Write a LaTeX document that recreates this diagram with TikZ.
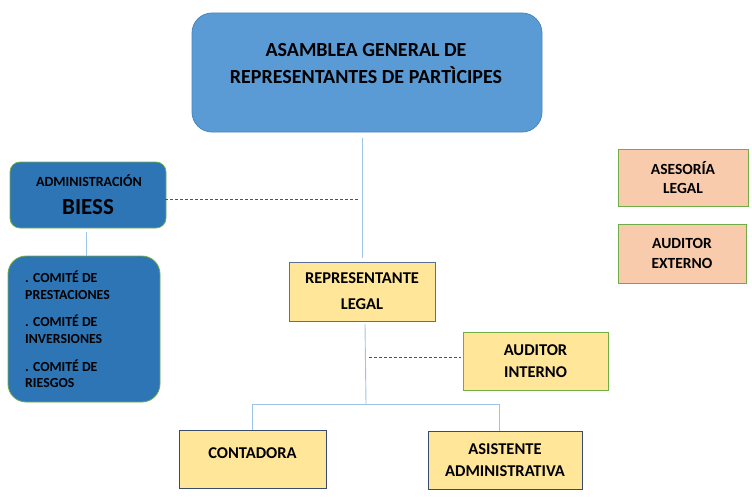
\documentclass[tikz,border=0pt]{standalone}
\usepackage{fontspec}
\setmainfont{Carlito}
\begin{document}
\begin{tikzpicture}[x=1pt,y=-1pt,
  box/.style={draw, line width=0.8pt, inner sep=0pt, align=center, font=\bfseries, text=black},
  bluebig/.style={box, fill=asamblea, draw=asambleadraw, rounded corners=20pt},
  darkblue/.style={box, fill=biess, draw=greenedge, rounded corners=10pt},
  yellowbox/.style={box, fill=yellowfill},
  peach/.style={box, fill=peachfill, draw=greenedge},
  conn/.style={draw=connblue, line width=0.9pt},
  dconn/.style={draw=dashblue, line width=0.8pt, dash pattern=on 3pt off 2pt}
]
\definecolor{asamblea}{HTML}{5B9BD5}
\definecolor{asambleadraw}{HTML}{4A85BD}
\definecolor{biess}{HTML}{2E75B6}
\definecolor{greenedge}{HTML}{70AD47}
\definecolor{yellowfill}{HTML}{FFE699}
\definecolor{peachfill}{HTML}{F8CBAD}
\definecolor{connblue}{HTML}{9DC3E6}
\definecolor{dashblue}{HTML}{44546A}
\definecolor{slateedge}{HTML}{5A6E96}
\definecolor{darkedge}{HTML}{3B4C6B}
\useasboundingbox (0,0) rectangle (752,503);

\node[bluebig, minimum width=350pt, minimum height=119pt] (asam) at (367,72.5) {};
\node[font=\bfseries\fontsize{20}{27}\selectfont, align=center, inner sep=0pt] (asamtxt) at (366,63.5) {ASAMBLEA GENERAL DE\\REPRESENTANTES DE PARTÌCIPES};

\node[darkblue, minimum width=156pt, minimum height=66pt] (adm) at (88,195) {};
\node[font=\bfseries\fontsize{14}{16}\selectfont, inner sep=0pt] (admtxt) at (89,181) {ADMINISTRACIÓN};
\node[font=\bfseries\fontsize{23}{26}\selectfont, inner sep=0pt] (biesstxt) at (88,207) {BIESS};

\node[darkblue, rounded corners=18pt, minimum width=152pt, minimum height=146pt] (com) at (84,329) {};
\node[font=\bfseries\fontsize{13.8}{16.8}\selectfont, align=left, inner sep=0pt, anchor=north west] (comtxt) at (25,271)
  {. COMITÉ DE\\PRESTACIONES\\[10.6pt]. COMITÉ DE\\INVERSIONES\\[10.6pt]. COMITÉ DE\\RIESGOS};

\node[yellowbox, draw=slateedge, minimum width=146pt, minimum height=59pt, font=\bfseries\fontsize{16.5}{26}\selectfont] (rep) at (362,291.5) {REPRESENTANTE\\LEGAL};

\node[yellowbox, draw=greenedge, minimum width=145pt, minimum height=58pt, font=\bfseries\fontsize{16.5}{22}\selectfont] (audi) at (535.5,361) {AUDITOR\\INTERNO};

\node[yellowbox, draw=darkedge, minimum width=147pt, minimum height=58pt, font=\bfseries\fontsize{16.5}{22}\selectfont, text depth=12pt] (cont) at (252.5,459) {CONTADORA};

\node[yellowbox, draw=darkedge, minimum width=154pt, minimum height=58pt, font=\bfseries\fontsize{16.5}{22}\selectfont] (asis) at (505,460) {ASISTENTE\\ADMINISTRATIVA};

\node[peach, minimum width=130pt, minimum height=57pt, font=\bfseries\fontsize{15.5}{19.5}\selectfont] (ases) at (683,177.5) {ASESORÍA\\LEGAL};
\node[peach, minimum width=128pt, minimum height=59pt, font=\bfseries\fontsize{15.5}{20}\selectfont] (aude) at (682,253.5) {AUDITOR\\EXTERNO};

% connectors
\coordinate (a1) at (362,138);
\coordinate (a2) at (362,258);
\draw[conn] (a1) -- (a2);
\coordinate (d1) at (165,199);
\coordinate (d2) at (358,199);
\draw[dconn] (d1) -- (d2);
\coordinate (b1) at (86,232);
\coordinate (b2) at (86,256);
\draw[conn] (b1) -- (b2);
\coordinate (r1) at (365,324);
\coordinate (r2) at (366,404);
\draw[conn] (r1) -- (r2);
\coordinate (e1) at (369,357);
\coordinate (e2) at (461,357);
\draw[dconn] (e1) -- (e2);
\coordinate (h1) at (252,404);
\coordinate (h2) at (499,404);
\draw[conn] (h1|-cont.north) -- (h1) -- (h2) -- (h2|-asis.north);
\end{tikzpicture}
\end{document}
